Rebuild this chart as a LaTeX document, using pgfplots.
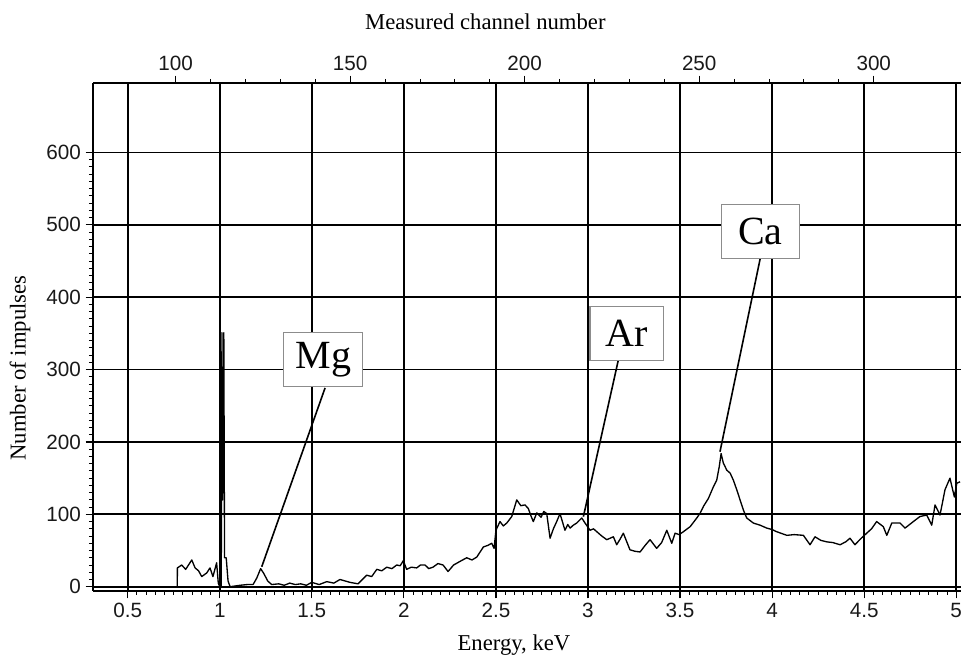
\documentclass[border=0pt]{standalone}
\usepackage{fontspec}
\setmainfont{Liberation Serif}
\newfontfamily\arialf{Liberation Sans}
\usepackage{pgfplots}
\pgfplotsset{compat=1.18}

\pgfplotstableread{
E y
0.769 0
0.770 26
0.793 30
0.815 24
0.848 37
0.866 26
0.885 22
0.902 14
0.929 19
0.947 26
0.963 14
0.983 33
0.992 5
1.000 0
1.008 0
1.012 351
1.015 120
1.018 275
1.020 130
1.022 351
1.026 40
1.035 40
1.045 8
1.056 0
1.110 2
1.150 3
1.181 3
1.201 12
1.222 25
1.240 18
1.260 8
1.282 3
1.320 4
1.350 2
1.380 5
1.410 3
1.440 4
1.470 2
1.500 6
1.540 3
1.581 7
1.620 5
1.653 10
1.680 8
1.708 6
1.751 4
1.798 16
1.825 14
1.853 24
1.880 22
1.907 27
1.935 25
1.961 30
1.980 29
1.997 36
2.015 24
2.040 27
2.070 26
2.090 30
2.115 30
2.135 25
2.158 27
2.185 32
2.213 30
2.240 21
2.270 30
2.305 35
2.341 40
2.370 37
2.396 41
2.432 55
2.455 57
2.477 60
2.490 53
2.500 78
2.522 90
2.540 84
2.559 88
2.586 97
2.613 120
2.635 112
2.658 113
2.676 108
2.690 98
2.703 90
2.722 102
2.745 96
2.760 104
2.776 101
2.794 67
2.812 80
2.830 90
2.848 101
2.875 78
2.890 86
2.903 81
2.920 85
2.939 88
2.966 95
2.984 88
3.011 78
3.030 80
3.048 76
3.075 70
3.102 65
3.138 69
3.156 58
3.175 66
3.192 74
3.228 51
3.255 49
3.283 48
3.310 57
3.337 65
3.373 53
3.400 61
3.428 78
3.455 60
3.473 74
3.495 72
3.518 76
3.555 83
3.591 95
3.610 102
3.627 111
3.654 122
3.681 138
3.699 147
3.713 166
3.723 184
3.735 171
3.754 161
3.772 157
3.790 147
3.808 134
3.826 120
3.844 106
3.862 95
3.898 88
3.935 85
3.971 81
4.000 79
4.025 76
4.080 71
4.120 72
4.170 71
4.206 58
4.233 69
4.265 64
4.297 62
4.330 61
4.369 58
4.400 62
4.423 67
4.450 58
4.480 66
4.514 74
4.540 80
4.568 90
4.604 83
4.623 71
4.650 88
4.695 88
4.722 81
4.767 90
4.803 97
4.840 99
4.867 85
4.885 113
4.912 99
4.939 134
4.966 150
4.990 124
5.003 143
5.021 145
}\spectrum

\begin{document}
\begin{tikzpicture}
\pgfplotsset{
  every axis/.append style={
    scale only axis,
    width=651pt, height=381pt,
    tick align=outside,
    major tick length=5.5pt,
    minor tick length=3pt,
    every tick/.style={black, line width=0.9pt},
    minor tick style={black, line width=0.75pt},
    axis line style={-, black, line width=1.9pt},
    tick label style={font=\arialf\fontsize{15.5}{18}\selectfont, black!90},
    /pgf/number format/assume math mode=true,
    label style={font=\fontsize{17}{20}\selectfont},
  },
}
\begin{axis}[
  at={(0,0)}, anchor=south west,
  xmin=0.3115, xmax=5.026,
  ymin=-5.9, ymax=696,
  axis x line*=bottom,
  axis y line*=left,
  xtick={0.5,1,...,5},
  xticklabels={0.5,1,1.5,2,2.5,3,3.5,4,4.5,5},
  minor x tick num=9,
  ytick={0,100,...,600},
  minor y tick num=9,
  grid=major,
  major grid style={black, line width=1.35pt},
  clip=false,
  xlabel={Energy, keV},
  xlabel style={at={(axis description cs:0.485,-0.106)}, anchor=center},
  ylabel={Number of impulses},
  ylabel style={at={(axis description cs:-0.084,0.439)}, anchor=center, rotate=0},
]
\addplot[black, line width=1pt, line join=round] table[x=E, y=y] {\spectrum};

\draw[black, line width=1.2pt] (axis cs:1.572,274.7) -- (axis cs:1.228,27.6);
\draw[black, line width=1.2pt] (axis cs:3.165,313.4) -- (axis cs:2.975,96.8);
\draw[black, line width=1.2pt] (axis cs:3.935,453) -- (axis cs:3.717,186.6);

\tikzset{lbl/.style={draw=black!45, line width=0.8pt, fill=white, inner sep=0pt,
  minimum height=40.5pt, font=\fontsize{30}{32}\selectfont}}
\node[lbl, minimum width=59pt] at (axis cs:1.562,313.7) {Mg};
\node[lbl, minimum width=55pt] at (axis cs:3.210,350.3) {Ar};
\node[lbl, minimum width=58pt] at (axis cs:3.937,490.2) {Ca};
\end{axis}

\begin{axis}[
  at={(0,0)}, anchor=south west,
  xmin=76.3, xmax=325,
  ymin=0, ymax=1,
  axis x line*=top,
  axis y line=none,
  xtick={100,150,...,300},
  minor x tick num=4,
  xlabel={Measured channel number},
  xlabel style={at={(axis description cs:0.452,1.12)}, anchor=center},
]
\addplot[draw=none] coordinates {(100,0.5)};
\end{axis}

\pgfresetboundingbox
\useasboundingbox (-69.75pt,-51pt) rectangle (651pt,443.25pt);
\end{tikzpicture}
\end{document}
